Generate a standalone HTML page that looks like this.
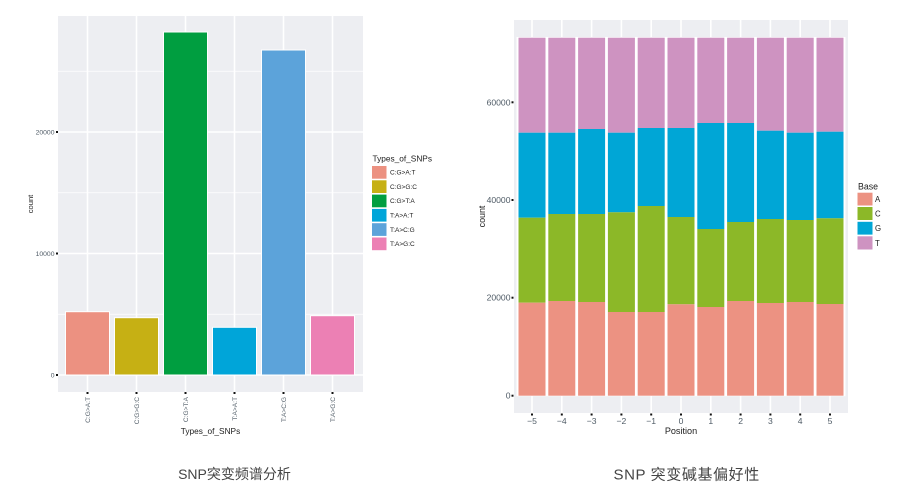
<!DOCTYPE html>
<html><head><meta charset="utf-8"><style>
html,body{margin:0;padding:0;background:#fff;}
svg{display:block;}
.ax{font-family:"Liberation Sans",sans-serif;fill:#4f5b66;}
.ti{font-family:"Liberation Sans",sans-serif;fill:#222;}
.cap{font-family:"Liberation Sans","Noto Sans CJK SC",sans-serif;fill:#444;}
</style></head><body>
<svg width="900" height="494" viewBox="0 0 900 494" xmlns="http://www.w3.org/2000/svg">
<rect width="900" height="494" fill="#fff"/>
<!-- LEFT PANEL -->
<rect x="58" y="16" width="305" height="376" fill="#EDEEF2"/>
<g stroke="#fff">
<line x1="58" x2="363" y1="71.25" y2="71.25" stroke-width="0.8"/>
<line x1="58" x2="363" y1="192.75" y2="192.75" stroke-width="0.8"/>
<line x1="58" x2="363" y1="314.25" y2="314.25" stroke-width="0.8"/>
<line x1="58" x2="363" y1="132" y2="132" stroke-width="1.6"/>
<line x1="58" x2="363" y1="253.5" y2="253.5" stroke-width="1.6"/>
<line x1="58" x2="363" y1="375" y2="375" stroke-width="1.6"/>
<line y1="16" y2="392" x1="87.5" x2="87.5" stroke-width="1.6"/>
<line y1="16" y2="392" x1="136.5" x2="136.5" stroke-width="1.6"/>
<line y1="16" y2="392" x1="185.5" x2="185.5" stroke-width="1.6"/>
<line y1="16" y2="392" x1="234.5" x2="234.5" stroke-width="1.6"/>
<line y1="16" y2="392" x1="283.5" x2="283.5" stroke-width="1.6"/>
<line y1="16" y2="392" x1="332.5" x2="332.5" stroke-width="1.6"/>
</g>
<g stroke="#fff" stroke-width="1">
<rect x="65.5" y="311.7" width="44" height="63.3" fill="#EC9181"/>
<rect x="114.5" y="317.7" width="44" height="57.3" fill="#C6B014"/>
<rect x="163.5" y="32" width="44" height="343" fill="#009E40"/>
<rect x="212.5" y="327.3" width="44" height="47.7" fill="#00A5D9"/>
<rect x="261.5" y="50" width="44" height="325" fill="#5CA3DA"/>
<rect x="310.5" y="315.7" width="44" height="59.3" fill="#EC80B4"/>
</g>
<!-- left y axis -->
<g class="ax" font-size="6.8" text-anchor="end">
<text x="54.5" y="377.4">0</text>
<text x="54.5" y="255.9">10000</text>
<text x="54.5" y="134.4">20000</text>
</g>
<g fill="#111">
<rect x="56" y="374" width="2" height="2"/>
<rect x="56" y="252.5" width="2" height="2"/>
<rect x="56" y="131" width="2" height="2"/>
<rect x="86.5" y="392" width="2" height="2"/>
<rect x="135.5" y="392" width="2" height="2"/>
<rect x="184.5" y="392" width="2" height="2"/>
<rect x="233.5" y="392" width="2" height="2"/>
<rect x="282.5" y="392" width="2" height="2"/>
<rect x="331.5" y="392" width="2" height="2"/>
</g>
<g class="ax" font-size="6.6" text-anchor="end">
<text transform="translate(89.8,397) rotate(-90)">C:G&gt;A:T</text>
<text transform="translate(138.8,397) rotate(-90)">C:G&gt;G:C</text>
<text transform="translate(187.8,397) rotate(-90)">C:G&gt;T:A</text>
<text transform="translate(236.8,397) rotate(-90)">T:A&gt;A:T</text>
<text transform="translate(285.8,397) rotate(-90)">T:A&gt;C:G</text>
<text transform="translate(334.8,397) rotate(-90)">T:A&gt;G:C</text>
</g>
<text class="ti" x="210.5" y="434" font-size="8.3" text-anchor="middle">Types_of_SNPs</text>
<text class="ti" transform="translate(33,204) rotate(-90)" font-size="7.6" text-anchor="middle">count</text>
<!-- left legend -->
<text class="ti" x="372.5" y="161.5" font-size="8.3">Types_of_SNPs</text>
<g>
<rect x="372" y="166" width="14.5" height="12.7" fill="#EC9181"/>
<rect x="372" y="180.3" width="14.5" height="12.7" fill="#C6B014"/>
<rect x="372" y="194.6" width="14.5" height="12.7" fill="#009E40"/>
<rect x="372" y="208.9" width="14.5" height="12.7" fill="#00A5D9"/>
<rect x="372" y="223.2" width="14.5" height="12.7" fill="#5CA3DA"/>
<rect x="372" y="237.5" width="14.5" height="12.7" fill="#EC80B4"/>
</g>
<g class="ti" font-size="6.5">
<text x="390" y="174.6">C:G&gt;A:T</text>
<text x="390" y="188.9">C:G&gt;G:C</text>
<text x="390" y="203.2">C:G&gt;T:A</text>
<text x="390" y="217.5">T:A&gt;A:T</text>
<text x="390" y="231.8">T:A&gt;C:G</text>
<text x="390" y="246.1">T:A&gt;G:C</text>
</g>
<text class="cap" x="234.5" y="479" font-size="14" text-anchor="middle">SNP突变频谱分析</text>

<!-- RIGHT PANEL -->
<rect x="514" y="20" width="334" height="393" fill="#EDEEF2"/>
<g stroke="#fff" stroke-width="1.6">
<line y1="20" y2="413" x1="532" x2="532"/>
<line y1="20" y2="413" x1="561.8" x2="561.8"/>
<line y1="20" y2="413" x1="591.6" x2="591.6"/>
<line y1="20" y2="413" x1="621.4" x2="621.4"/>
<line y1="20" y2="413" x1="651.2" x2="651.2"/>
<line y1="20" y2="413" x1="681" x2="681"/>
<line y1="20" y2="413" x1="710.8" x2="710.8"/>
<line y1="20" y2="413" x1="740.6" x2="740.6"/>
<line y1="20" y2="413" x1="770.4" x2="770.4"/>
<line y1="20" y2="413" x1="800.2" x2="800.2"/>
<line y1="20" y2="413" x1="830" x2="830"/>
</g>
<rect x="516.5" y="37" width="329" height="359.2" fill="#fff"/>
<g id="rb">
<!-- bar cols: x, T/G, G/C, C/A -->
</g>
<g>
<!-- bar 1 -->
<rect x="518.5" y="37.7" width="27" height="95" fill="#CE93C1"/>
<rect x="518.5" y="132.7" width="27" height="85" fill="#00A6D6"/>
<rect x="518.5" y="217.7" width="27" height="85" fill="#8CB828"/>
<rect x="518.5" y="302.7" width="27" height="93" fill="#EC9282"/>
<!-- bar 2 -->
<rect x="548.3" y="37.7" width="27" height="95" fill="#CE93C1"/>
<rect x="548.3" y="132.7" width="27" height="81.3" fill="#00A6D6"/>
<rect x="548.3" y="214" width="27" height="87" fill="#8CB828"/>
<rect x="548.3" y="301" width="27" height="94.7" fill="#EC9282"/>
<!-- bar 3 -->
<rect x="578.1" y="37.7" width="27" height="91.3" fill="#CE93C1"/>
<rect x="578.1" y="129" width="27" height="85" fill="#00A6D6"/>
<rect x="578.1" y="214" width="27" height="88" fill="#8CB828"/>
<rect x="578.1" y="302" width="27" height="93.7" fill="#EC9282"/>
<!-- bar 4 -->
<rect x="607.9" y="37.7" width="27" height="95" fill="#CE93C1"/>
<rect x="607.9" y="132.7" width="27" height="79.6" fill="#00A6D6"/>
<rect x="607.9" y="212.3" width="27" height="99.7" fill="#8CB828"/>
<rect x="607.9" y="312" width="27" height="83.7" fill="#EC9282"/>
<!-- bar 5 -->
<rect x="637.7" y="37.7" width="27" height="90.3" fill="#CE93C1"/>
<rect x="637.7" y="128" width="27" height="78" fill="#00A6D6"/>
<rect x="637.7" y="206" width="27" height="106" fill="#8CB828"/>
<rect x="637.7" y="312" width="27" height="83.7" fill="#EC9282"/>
<!-- bar 6 -->
<rect x="667.5" y="37.7" width="27" height="90.3" fill="#CE93C1"/>
<rect x="667.5" y="128" width="27" height="89" fill="#00A6D6"/>
<rect x="667.5" y="217" width="27" height="87.3" fill="#8CB828"/>
<rect x="667.5" y="304.3" width="27" height="91.4" fill="#EC9282"/>
<!-- bar 7 -->
<rect x="697.3" y="37.7" width="27" height="85.3" fill="#CE93C1"/>
<rect x="697.3" y="123" width="27" height="106" fill="#00A6D6"/>
<rect x="697.3" y="229" width="27" height="78" fill="#8CB828"/>
<rect x="697.3" y="307" width="27" height="88.7" fill="#EC9282"/>
<!-- bar 8 -->
<rect x="727.1" y="37.7" width="27" height="85.3" fill="#CE93C1"/>
<rect x="727.1" y="123" width="27" height="99" fill="#00A6D6"/>
<rect x="727.1" y="222" width="27" height="79" fill="#8CB828"/>
<rect x="727.1" y="301" width="27" height="94.7" fill="#EC9282"/>
<!-- bar 9 -->
<rect x="756.9" y="37.7" width="27" height="93" fill="#CE93C1"/>
<rect x="756.9" y="130.7" width="27" height="88.3" fill="#00A6D6"/>
<rect x="756.9" y="219" width="27" height="84" fill="#8CB828"/>
<rect x="756.9" y="303" width="27" height="92.7" fill="#EC9282"/>
<!-- bar 10 -->
<rect x="786.7" y="37.7" width="27" height="95" fill="#CE93C1"/>
<rect x="786.7" y="132.7" width="27" height="87.3" fill="#00A6D6"/>
<rect x="786.7" y="220" width="27" height="82" fill="#8CB828"/>
<rect x="786.7" y="302" width="27" height="93.7" fill="#EC9282"/>
<!-- bar 11 -->
<rect x="816.5" y="37.7" width="27" height="94" fill="#CE93C1"/>
<rect x="816.5" y="131.7" width="27" height="86.6" fill="#00A6D6"/>
<rect x="816.5" y="218.3" width="27" height="85.7" fill="#8CB828"/>
<rect x="816.5" y="304" width="27" height="91.7" fill="#EC9282"/>
</g>
<!-- right y axis -->
<g class="ax" font-size="8.6" text-anchor="end">
<text x="510.5" y="398.7">0</text>
<text x="510.5" y="300.7">20000</text>
<text x="510.5" y="203">40000</text>
<text x="510.5" y="105.3">60000</text>
</g>
<g fill="#111">
<rect x="511.5" y="394.7" width="2" height="2"/>
<rect x="511.5" y="296.7" width="2" height="2"/>
<rect x="511.5" y="199" width="2" height="2"/>
<rect x="511.5" y="101.3" width="2" height="2"/>
<rect x="531" y="413.5" width="2" height="2"/>
<rect x="560.8" y="413.5" width="2" height="2"/>
<rect x="590.6" y="413.5" width="2" height="2"/>
<rect x="620.4" y="413.5" width="2" height="2"/>
<rect x="650.2" y="413.5" width="2" height="2"/>
<rect x="680" y="413.5" width="2" height="2"/>
<rect x="709.8" y="413.5" width="2" height="2"/>
<rect x="739.6" y="413.5" width="2" height="2"/>
<rect x="769.4" y="413.5" width="2" height="2"/>
<rect x="799.2" y="413.5" width="2" height="2"/>
<rect x="829" y="413.5" width="2" height="2"/>
</g>
<g class="ax" font-size="8.6" text-anchor="middle">
<text x="532" y="424">−5</text>
<text x="561.8" y="424">−4</text>
<text x="591.6" y="424">−3</text>
<text x="621.4" y="424">−2</text>
<text x="651.2" y="424">−1</text>
<text x="681" y="424">0</text>
<text x="710.8" y="424">1</text>
<text x="740.6" y="424">2</text>
<text x="770.4" y="424">3</text>
<text x="800.2" y="424">4</text>
<text x="830" y="424">5</text>
</g>
<text class="ti" x="681" y="434" font-size="9.1" text-anchor="middle">Position</text>
<text class="ti" transform="translate(485,216.5) rotate(-90)" font-size="8.9" text-anchor="middle">count</text>
<!-- right legend -->
<text class="ti" x="858" y="189.5" font-size="8.8">Base</text>
<rect x="857.5" y="192.7" width="15" height="12.8" fill="#EC9282"/>
<rect x="857.5" y="207" width="15" height="13" fill="#8CB828"/>
<rect x="857.5" y="221.8" width="15" height="12.8" fill="#00A6D6"/>
<rect x="857.5" y="236.3" width="15" height="13.2" fill="#CE93C1"/>
<g class="ti" font-size="7.8">
<text x="875" y="202">A</text>
<text x="875" y="216.5">C</text>
<text x="875" y="231">G</text>
<text x="875" y="245.8">T</text>
</g>
<text class="cap" x="686.7" y="479.5" font-size="15" text-anchor="middle" letter-spacing="0.6">SNP 突变碱基偏好性</text>
</svg>
</body></html>
